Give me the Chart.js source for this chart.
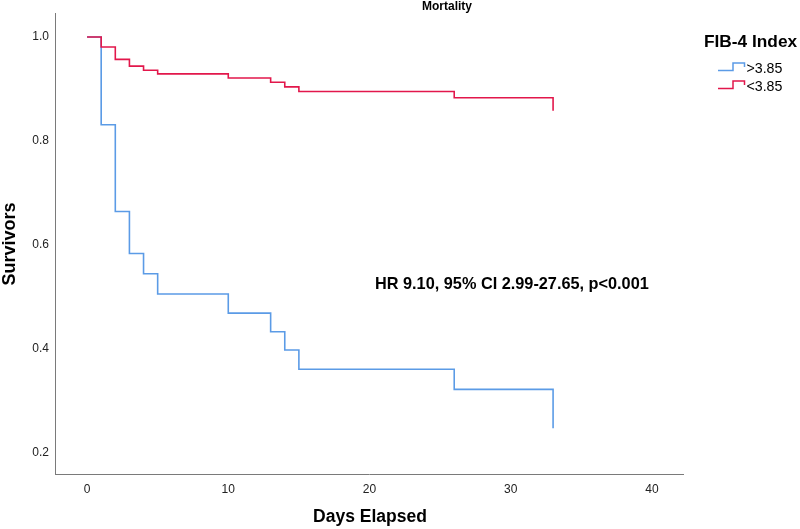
<!DOCTYPE html>
<html>
<head>
<meta charset="utf-8">
<script src="https://cdn.jsdelivr.net/npm/chart.js@4.4.1/dist/chart.umd.min.js"></script>
<style>
html,body{margin:0;padding:0;background:#fff;}
#wrap{width:800px;height:529px;position:relative;}
</style>
</head>
<body>
<div id="wrap"><canvas id="c"></canvas></div>
<script>
// ---- data ----
const days = [0, 1, 2, 3, 4, 5, 10, 13, 14, 15, 26, 33];
const survivalHigh = [1.0, 0.831, 0.664, 0.583, 0.544, 0.505, 0.468, 0.432, 0.397, 0.360, 0.321, 0.246]; // >3.85
const survivalLow  = [1.0, 0.981, 0.957, 0.944, 0.936, 0.929, 0.921, 0.913, 0.904, 0.895, 0.883, 0.858]; // <3.85
const seriesNames = ['>3.85', '<3.85'];
const xTicks = [0, 10, 20, 30, 40];
const yTicks = [0.2, 0.4, 0.6, 0.8, 1.0];
const chartTitle = 'Mortality';
const xTitle = 'Days Elapsed';
const yTitle = 'Survivors';
const legendTitle = 'FIB-4 Index';
const annotation = 'HR 9.10, 95% CI 2.99-27.65, p<0.001';

const BLUE = '#5b9be6';
const RED = '#e2174b';
const FONT = '"Liberation Sans", Arial, sans-serif';

const toPts = (xs, ys) => xs.map((x, i) => ({x: x, y: ys[i]}));

const overlay = {
  id: 'overlay',
  afterDraw(chart) {
    const ctx = chart.ctx;
    const area = chart.chartArea;
    ctx.save();
    ctx.fillStyle = '#000';
    // title
    ctx.font = 'bold 12px ' + FONT;
    ctx.textAlign = 'center';
    ctx.textBaseline = 'middle';
    ctx.fillText(chartTitle, 447, 7);
    // x title
    ctx.font = 'bold 17.5px ' + FONT;
    ctx.fillText(xTitle, (area.left + area.right) / 2 + 1, 517);
    // y title
    ctx.save();
    ctx.translate(10, 244);
    ctx.rotate(-Math.PI / 2);
    ctx.font = 'bold 18px ' + FONT;
    ctx.fillText(yTitle, 0, 0);
    ctx.restore();
    // annotation
    ctx.font = 'bold 16.3px ' + FONT;
    ctx.textAlign = 'left';
    ctx.fillText(annotation, 375, 285);
    // legend
    ctx.font = 'bold 17.3px ' + FONT;
    ctx.fillText(legendTitle, 704, 42);
    const rows = [{c: BLUE, y: 70.5, t: seriesNames[0]}, {c: RED, y: 88.5, t: seriesNames[1]}];
    ctx.font = '14.2px ' + FONT;
    rows.forEach(r => {
      ctx.strokeStyle = r.c;
      ctx.lineWidth = 1.5;
      ctx.beginPath();
      ctx.moveTo(718, r.y);
      ctx.lineTo(733, r.y);
      ctx.lineTo(733, r.y - 7.5);
      ctx.lineTo(744.5, r.y - 7.5);
      ctx.lineTo(744.5, r.y - 3.5);
      ctx.stroke();
      ctx.fillStyle = '#000';
      ctx.fillText(r.t, 746.5, r.y - 1.5);
    });
    ctx.restore();
  }
};

new Chart(document.getElementById('c'), {
  type: 'line',
  data: {
    datasets: [
      {label: seriesNames[1], data: toPts(days, survivalLow), borderColor: RED, borderWidth: 1.6, stepped: true, pointRadius: 0, fill: false},
      {label: seriesNames[0], data: toPts(days, survivalHigh), borderColor: BLUE, borderWidth: 1.6, stepped: true, pointRadius: 0, fill: false}
    ]
  },
  options: {
    responsive: true,
    maintainAspectRatio: false,
    animation: false,
    layout: {padding: {top: 13, right: 117, left: 0, bottom: 0}},
    plugins: {legend: {display: false}, tooltip: {enabled: false}, title: {display: false}},
    scales: {
      x: {
        type: 'linear', min: -2.27, max: 42.2,
        grid: {display: false, drawTicks: false},
        border: {display: true, color: '#7a7a7a', width: 1},
        ticks: {font: {family: FONT, size: 12}, color: '#222', padding: 8, maxRotation: 0},
        afterBuildTicks: s => { s.ticks = xTicks.map(v => ({value: v})); },
        afterFit: s => { s.height = 55; }
      },
      y: {
        type: 'linear', min: 0.158, max: 1.046,
        grid: {display: false, drawTicks: false},
        border: {display: true, color: '#7a7a7a', width: 1},
        ticks: {font: {family: FONT, size: 12}, color: '#222', padding: 6, callback: v => v.toFixed(1)},
        afterBuildTicks: s => { s.ticks = yTicks.map(v => ({value: v})); },
        afterFit: s => { s.width = 55; }
      }
    }
  },
  plugins: [overlay]
});
</script>
</body>
</html>
